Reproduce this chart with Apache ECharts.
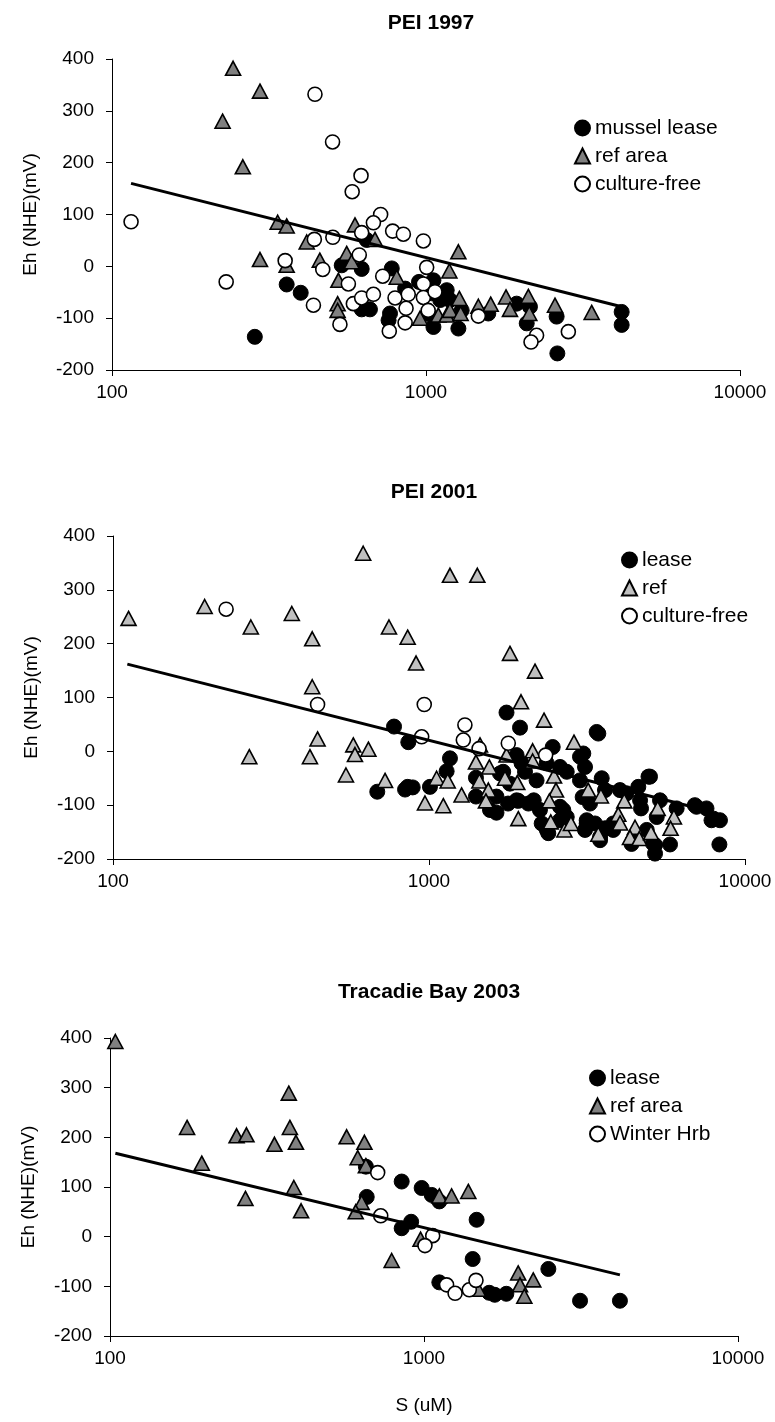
<!DOCTYPE html>
<html>
<head>
<meta charset="utf-8">
<script src="https://cdn.jsdelivr.net/npm/echarts@6/dist/echarts.min.js"></script>
<style>
html,body{margin:0;padding:0;background:#fff;}
#chart{width:775px;height:1422px;}
</style>
</head>
<body>
<div id="chart"></div>
<script>
// ---------- DATA ----------
const panelTitles = ['PEI 1997', 'PEI 2001', 'Tracadie Bay 2003'];
const yTicks = [-200, -100, 0, 100, 200, 300, 400];
const xTickLabels = ['100', '1000', '10000'];

// PEI 1997
const lease97 = [[285,-136],[360,-35],[399,-51],[539,2],[624,-5],[647,51],[778,-4],[624,-83],[663,-83],[768,-91],[760,-104],[858,-43],[950,-30],[1056,-27],[1164,-46],[1192,-65],[1056,-117],[1268,-120],[1299,-85],[1579,-91],[1944,-72],[2143,-78],[2093,-110],[2606,-97],[2620,-168],[4199,-88],[4199,-113],[1020,-92],[1042,-52],[1110,-65]];
const ref97 = [[243,382],[296,338],[225,280],[261,192],[337,85],[360,78],[417,47],[296,13],[360,2],[459,12],[594,80],[688,52],[559,25],[580,9],[526,-27],[523,-72],[523,-85],[807,-21],[957,-100],[1095,-94],[1164,-94],[1192,-85],[1268,28],[1187,-9],[1277,-62],[1289,-91],[1468,-77],[1607,-73],[1798,-59],[1851,-83],[2118,-58],[2133,-91],[2575,-75],[3370,-89]];
const culture97 = [[115,86],[231,-30],[443,332],[504,240],[621,175],[582,144],[717,100],[680,84],[624,65],[783,68],[847,62],[981,49],[441,52],[505,56],[356,11],[469,-6],[613,22],[566,-34],[438,-75],[532,-112],[728,-19],[587,-72],[624,-61],[680,-54],[797,-61],[878,-54],[864,-81],[858,-109],[764,-125],[1005,-2],[981,-34],[981,-60],[1068,-49],[1016,-85],[1468,-96],[2250,-133],[2160,-146],[2840,-126]];
const trend97 = [[115,160],[4200,-78]];

// PEI 2001
const lease01 = [[775,46],[860,17],[686,-75],[840,-71],[888,-67],[856,-66],[1007,-66],[1137,-37],[1165,-13],[1759,72],[1941,44],[1408,-49],[1408,-84],[1635,-114],[1717,-38],[1803,-60],[1779,-97],[1917,-92],[2063,-97],[1893,-7],[1963,-22],[2013,-38],[2190,-54],[2244,-109],[2273,-134],[2385,-152],[2463,8],[2357,-22],[2598,-29],[2728,-38],[2661,-109],[2598,-128],[3005,-10],[3117,-29],[3005,-54],[3064,-85],[3117,-146],[3434,33],[3078,-4],[3520,-50],[3605,-72],[3232,-97],[3155,-128],[3352,-134],[3605,-143],[3478,-159],[4022,-72],[4222,-78],[4596,-66],[5004,-47],[4688,-106],[5383,-91],[5256,-122],[6077,-106],[7023,-103],[7553,-106],[7834,-128],[8333,-128],[8298,-173],[5790,-173],[5191,-174],[5191,-190],[4375,-172],[3828,-146],[4655,-91],[4887,-146],[1560,-109],[1635,-84],[1677,-41],[1893,-91],[2145,-91],[2360,-146],[2598,-103],[2728,-122],[3155,-134],[3478,-165],[3828,-134],[4420,-165],[5111,-171],[3393,36],[4950,-47],[7953,-125],[6938,-100]];
const ref01 = [[112,247],[195,269],[273,231],[368,256],[427,209],[427,120],[444,23],[270,-10],[420,-10],[576,12],[583,-6],[643,4],[546,-44],[619,368],[747,231],[856,212],[910,164],[726,-54],[971,-96],[1057,-50],[1146,-55],[1110,-101],[1268,-81],[1408,-20],[1552,-29],[1444,-55],[1541,-72],[1514,-92],[1450,12],[1759,-7],[1740,-50],[1903,-58],[2128,1],[2128,-18],[1917,-125],[2487,-46],[2523,-72],[2404,-92],[2428,-131],[2682,-146],[2813,-134],[3190,-72],[1804,182],[2165,149],[1955,92],[2312,58],[2876,17],[3500,-83],[3434,-154],[4149,-92],[3972,-117],[4022,-133],[4487,-141],[4325,-160],[4630,-162],[5041,-151],[5292,-106],[5957,-122],[5815,-143],[1165,327],[1422,327]];
const culture01 = [[228,264],[444,87],[966,87],[948,27],[1299,49],[1284,21],[1440,5],[1782,15],[2340,-7]];
const trend01 = [[111,162],[6800,-103]];

// Tracadie Bay 2003
const lease03 = [[653,141],[657,80],[849,111],[983,98],[1058,84],[1119,71],[849,17],[910,30],[1471,34],[1429,-45],[1119,-92],[1613,-113],[1680,-117],[1829,-115],[2489,-65],[3140,-129],[4207,-129]];
const ref03 = [[104,393],[176,220],[196,148],[253,203],[272,205],[270,77],[334,186],[371,289],[374,220],[391,190],[385,99],[406,52],[567,201],[646,190],[615,159],[653,143],[633,69],[606,50],[789,-48],[975,-5],[1119,82],[1224,82],[1384,91],[1995,-73],[2228,-87],[2022,-97],[2087,-120],[1488,-106]];
const winter03 = [[712,129],[728,42],[1066,2],[1007,-18],[1180,-97],[1256,-114],[1394,-107],[1464,-88]];
const trend03 = [[104,168],[4207,-77]];

// ---------- CHART ----------
const FONT = "'Liberation Sans', Arial, sans-serif";
const grids = [
  {left:112, top:59,   width:628, height:311},
  {left:113, top:536,  width:632, height:323},
  {left:110, top:1038, width:628, height:298}
];
const titleTops = [8, 477, 977];
const legendPos = [{left:569, top:112}, {left:616, top:544}, {left:584, top:1062}];

function xAxisDef(i, withName){
  return {
    type:'log', logBase:10, min:100, max:10000, gridIndex:i,
    axisLine:{onZero:false, lineStyle:{color:'#000', width:1}},
    axisTick:{show:true, length:6, lineStyle:{color:'#000'}},
    splitLine:{show:false}, minorTick:{show:false},
    axisLabel:{color:'#000', fontFamily:FONT, fontSize:19, margin:13,
      formatter: v => xTickLabels[Math.round(Math.log10(v)) - 2] || ''},
    name: withName ? 'S (uM)' : '',
    nameLocation:'middle', nameGap:60,
    nameTextStyle:{color:'#000', fontFamily:FONT, fontSize:19}
  };
}
function yAxisDef(i){
  return {
    type:'value', min:yTicks[0], max:yTicks[yTicks.length-1], interval:100, gridIndex:i,
    axisLine:{show:true, onZero:false, lineStyle:{color:'#000', width:1}},
    axisTick:{show:true, length:6, lineStyle:{color:'#000'}},
    splitLine:{show:false},
    axisLabel:{color:'#000', fontFamily:FONT, fontSize:19, margin:18},
    name:'Eh (NHE)(mV)', nameLocation:'middle', nameGap:72,
    nameTextStyle:{color:'#000', fontFamily:FONT, fontSize:19}
  };
}
const blackStyle = {color:'#000', borderColor:'#000', borderWidth:1, opacity:1};
const whiteStyle = {color:'#fff', borderColor:'#000', borderWidth:1.6, opacity:1};
const triStyle = (c) => ({color:c, borderColor:'#000', borderWidth:1.6, opacity:1});

function sc(name, data, i, symbol, style, size){
  return {type:'scatter', name, data, xAxisIndex:i, yAxisIndex:i,
    symbol, symbolSize:size, itemStyle:style, emphasis:{disabled:true}, animation:false};
}
function line(data, i){
  return {type:'line', data, xAxisIndex:i, yAxisIndex:i, showSymbol:false, symbol:'none',
    lineStyle:{color:'#000', width:3}, z:5, animation:false, silent:true};
}

const series = [
  sc('mussel lease', lease97, 0, 'circle', blackStyle, 15),
  sc('ref area', ref97, 0, 'triangle', triStyle('#808080'), [15,14]),
  sc('culture-free', culture97, 0, 'circle', whiteStyle, 14),
  line(trend97, 0),
  sc('lease', lease01, 1, 'circle', blackStyle, 15),
  sc('ref', ref01, 1, 'triangle', triStyle('#c0c0c0'), [15,14]),
  sc('culture-free', culture01, 1, 'circle', whiteStyle, 14),
  line(trend01, 1),
  sc('lease', lease03, 2, 'circle', blackStyle, 15),
  sc('ref area', ref03, 2, 'triangle', triStyle('#808080'), [15,14]),
  sc('Winter Hrb', winter03, 2, 'circle', whiteStyle, 14),
  line(trend03, 2)
];

const legendNames = [
  [['mussel lease','circle'],['ref area','triangle'],['culture-free','circle']],
  [['lease','circle'],['ref','triangle'],['culture-free','circle']],
  [['lease','circle'],['ref area','triangle'],['Winter Hrb','circle']]
];

const option = {
  backgroundColor:'#fff',
  animation:false,
  title: panelTitles.map((t,i) => ({
    text:t, left: grids[i].left + grids[i].width/2, top:titleTops[i], textAlign:'center',
    textStyle:{color:'#000', fontFamily:FONT, fontSize:21, fontWeight:'bold'}
  })),
  legend: legendNames.map((items,i) => ({
    orient:'vertical', left:legendPos[i].left, top:legendPos[i].top,
    itemWidth:15, itemHeight:15, itemGap:6, selectedMode:false,
    textStyle:{color:'#000', fontFamily:FONT, fontSize:21, lineHeight:22},
    data: items.map(([n,ic]) => ({name:n, icon:ic}))
  })),
  grid: grids,
  xAxis: [xAxisDef(0,false), xAxisDef(1,false), xAxisDef(2,true)],
  yAxis: [yAxisDef(0), yAxisDef(1), yAxisDef(2)],
  series
};
const chart = echarts.init(document.getElementById('chart'), null, {renderer:'canvas'});
chart.setOption(option);
</script>
</body>
</html>
